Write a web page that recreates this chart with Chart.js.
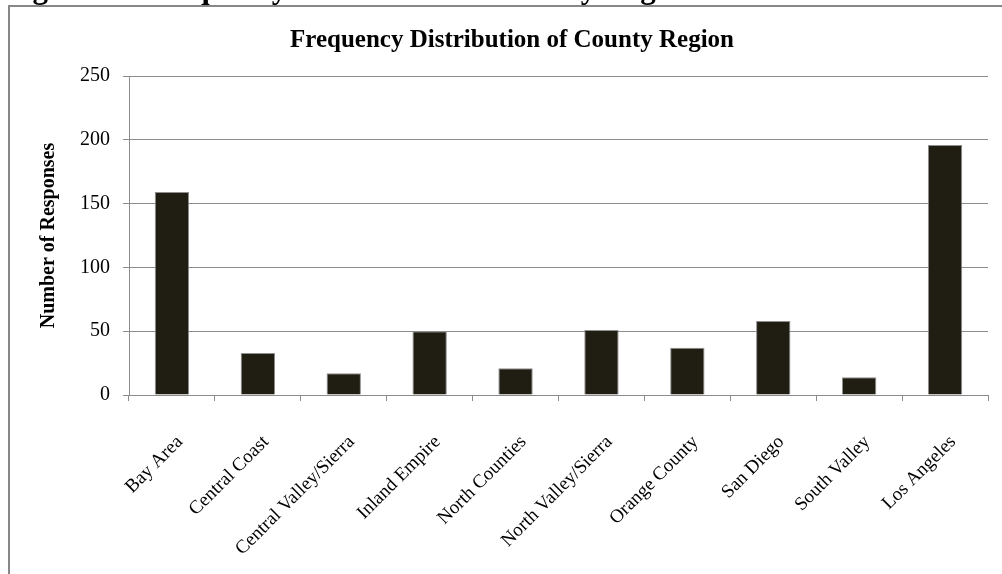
<!DOCTYPE html>
<html>
<head>
<meta charset="utf-8">
<script src="https://cdn.jsdelivr.net/npm/chart.js@4/dist/chart.umd.min.js"></script>
<style>
  html, body { margin: 0; padding: 0; background: #fff; }
  #wrap { position: relative; width: 1002px; height: 574px; }
</style>
</head>
<body>
<div id="wrap"><canvas id="chart" width="1002" height="574"></canvas></div>
<script>
// ===== data =====
const regions = ['Bay Area', 'Central Coast', 'Central Valley/Sierra', 'Inland Empire', 'North Counties',
  'North Valley/Sierra', 'Orange County', 'San Diego', 'South Valley', 'Los Angeles'];
const responses = [159, 33, 17, 50, 21, 51, 37, 58, 14, 196];
const yTicks = [0, 50, 100, 150, 200, 250];

const chartTitle = 'Frequency Distribution of County Region';
const captionText = 'Figure 10. Frequency Distribution of County Region';
const serif = '"Liberation Serif", "Times New Roman", serif';

// frame, cut-off caption and title
const decor = {
  id: 'decor',
  beforeDraw(chart) {
    const ctx = chart.ctx;
    ctx.save();
    ctx.fillStyle = '#fff';
    ctx.fillRect(0, 0, chart.width, chart.height);
    ctx.strokeStyle = '#878787';
    ctx.lineWidth = 2;
    ctx.beginPath();
    ctx.moveTo(9, chart.height + 2);
    ctx.lineTo(9, 6);
    ctx.lineTo(chart.width + 2, 6);
    ctx.stroke();

    ctx.fillStyle = '#000';
    ctx.font = 'bold 31px ' + serif;
    ctx.textBaseline = 'alphabetic';
    ctx.textAlign = 'left';
    ctx.fillText(captionText, 5, -2);

    ctx.font = 'bold 25px ' + serif;
    ctx.textAlign = 'center';
    ctx.textBaseline = 'middle';
    ctx.fillText(chartTitle, 512, 41);
    ctx.restore();
  }
};

new Chart(document.getElementById('chart'), {
  type: 'bar',
  data: {
    labels: regions,
    datasets: [{
      data: responses,
      backgroundColor: '#201d13',
      borderColor: '#8f8f8f',
      borderWidth: 1,
      barPercentage: 0.4,
      categoryPercentage: 1.0
    }]
  },
  options: {
    responsive: false,
    animation: false,
    layout: { padding: { top: 76, right: 14, left: 37, bottom: 0 } },
    plugins: { legend: { display: false }, title: { display: false }, tooltip: { enabled: false } },
    scales: {
      x: {
        afterFit(axis) { axis.height = 179; },
        grid: { display: true, drawOnChartArea: false, offset: true, color: '#8c8c8c', tickLength: 6 },
        border: { color: '#8c8c8c' },
        ticks: {
          color: '#000',
          font: { family: serif, size: 19 },
          minRotation: 45,
          maxRotation: 45,
          autoSkip: false,
          padding: 30,
          labelOffset: 8
        }
      },
      y: {
        min: 0,
        max: 250,
        afterBuildTicks(axis) { axis.ticks = yTicks.map(v => ({ value: v })); },
        afterFit(axis) { axis.width = 92; },
        grid: { color: '#8c8c8c', tickLength: 6 },
        border: { color: '#8c8c8c' },
        ticks: { color: '#000', font: { family: serif, size: 20 }, padding: 13 },
        title: {
          display: true,
          text: 'Number of Responses',
          color: '#000',
          font: { family: serif, size: 20, weight: 'bold' },
          padding: { top: 0, bottom: 0 }
        }
      }
    }
  },
  plugins: [decor]
});
</script>
</body>
</html>
